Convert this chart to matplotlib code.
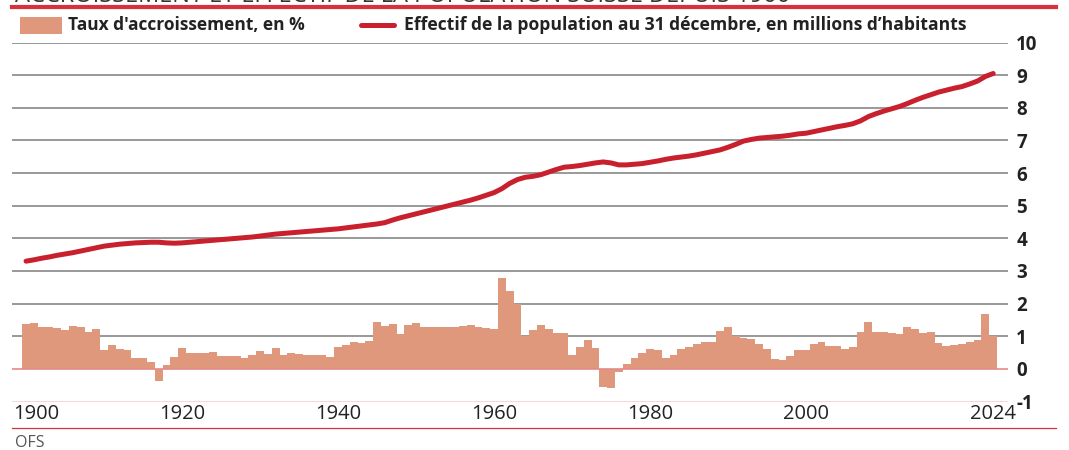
import matplotlib
matplotlib.use("Agg")
import matplotlib.pyplot as plt
from matplotlib.patches import Rectangle
from matplotlib.lines import Line2D
from matplotlib.transforms import ScaledTranslation

plt.rcParams['font.family'] = ['Open Sans', 'DejaVu Sans']

years = list(range(1900, 2025))

# Taux d'accroissement, en %
growth = [
    1.36, 1.41, 1.28, 1.27, 1.26, 1.18, 1.31, 1.27, 1.14, 1.22,   # 1900-1909
    0.59, 0.73, 0.61, 0.58, 0.33, 0.33, 0.22, -0.36, 0.12, 0.37,  # 1910-1919
    0.65, 0.48, 0.48, 0.48, 0.53, 0.38, 0.39, 0.40, 0.34, 0.44,   # 1920-1929
    0.55, 0.46, 0.64, 0.43, 0.50, 0.47, 0.43, 0.43, 0.43, 0.37,   # 1930-1939
    0.67, 0.74, 0.81, 0.78, 0.85, 1.43, 1.31, 1.38, 1.06, 1.33,   # 1940-1949
    1.39, 1.29, 1.29, 1.29, 1.29, 1.28, 1.30, 1.33, 1.28, 1.26,   # 1950-1959
    1.23, 2.77, 2.40, 2.00, 1.00, 1.18, 1.34, 1.21, 1.10, 1.10,   # 1960-1969
    0.41, 0.67, 0.88, 0.63, -0.55, -0.58, -0.10, 0.15, 0.32, 0.50,  # 1970-1979
    0.61, 0.58, 0.32, 0.43, 0.60, 0.68, 0.75, 0.83, 0.83, 1.15,   # 1980-1989
    1.28, 1.00, 0.95, 0.91, 0.76, 0.61, 0.31, 0.26, 0.40, 0.58,   # 1990-1999
    0.58, 0.75, 0.82, 0.69, 0.69, 0.61, 0.67, 1.14, 1.44, 1.12,   # 2000-2009
    1.12, 1.10, 1.08, 1.29, 1.21, 1.10, 1.14, 0.80, 0.71, 0.72,   # 2010-2019
    0.77, 0.82, 0.89, 1.68, 1.01,                                 # 2020-2024
]

# Effectif de la population au 31 decembre, en millions
population = [
    3.30, 3.34, 3.39, 3.43, 3.48, 3.52, 3.56, 3.61, 3.66, 3.71,
    3.76, 3.79, 3.82, 3.84, 3.86, 3.87, 3.88, 3.88, 3.86, 3.85,
    3.86, 3.88, 3.90, 3.92, 3.94, 3.96, 3.98, 4.00, 4.02, 4.04,
    4.07, 4.10, 4.13, 4.15, 4.17, 4.19, 4.21, 4.23, 4.25, 4.27,
    4.29, 4.32, 4.35, 4.38, 4.41, 4.44, 4.48, 4.56, 4.63, 4.69,
    4.75, 4.81, 4.87, 4.93, 4.99, 5.05, 5.11, 5.17, 5.24, 5.32,
    5.40, 5.52, 5.68, 5.80, 5.87, 5.90, 5.95, 6.03, 6.11, 6.18,
    6.20, 6.23, 6.27, 6.31, 6.34, 6.31, 6.25, 6.25, 6.27, 6.29,
    6.33, 6.37, 6.42, 6.46, 6.49, 6.52, 6.56, 6.61, 6.66, 6.71,
    6.79, 6.88, 6.98, 7.03, 7.07, 7.09, 7.11, 7.13, 7.16, 7.20,
    7.22, 7.27, 7.32, 7.37, 7.42, 7.46, 7.51, 7.60, 7.73, 7.82,
    7.90, 7.97, 8.04, 8.13, 8.23, 8.32, 8.40, 8.48, 8.54, 8.60,
    8.65, 8.73, 8.82, 8.96, 9.05,
]

x_ticks = [1900, 1920, 1940, 1960, 1980, 2000, 2024]
y_ticks = list(range(-1, 11))

bar_color = '#e0987c'
line_color = '#c9202e'
grid_color = '#7d7d7d'
red = '#d8303c'

W, H = 1069, 450
fig = plt.figure(figsize=(W / 100, H / 100), dpi=100)


def fx(px):
    return px / W


def fy(py):
    return 1 - py / H


ax = fig.add_axes([fx(12), fy(401.5), fx(1008 - 12), (401.5 - 42.5) / H])
ax.set_xlim(1898.2, 2025.9)
ax.set_ylim(-1, 10)

for v in range(1, 11):
    ax.axhline(v, color=grid_color, lw=1.1, zorder=0)
ax.axhline(-1, color=red, lw=1.0, zorder=0)

ax.bar(years, growth, width=1.0, color=bar_color, linewidth=0, zorder=2)
ax.axhline(0, color='#e48a8a', lw=1.2, zorder=3)
ax.plot(years, population, color=line_color, lw=3.6, solid_capstyle='round',
        solid_joinstyle='round', zorder=4)

for s in ax.spines.values():
    s.set_visible(False)

ax.yaxis.tick_right()
ax.set_yticks(y_ticks)
ax.set_yticklabels([str(v) for v in y_ticks], fontsize=13.5, fontweight='bold', color='#222222')
ax.tick_params(axis='y', length=0, pad=6)

ax.set_xticks(x_ticks)
ax.set_xticklabels([str(v) for v in x_ticks], fontsize=14.5, color='#222222')
ax.tick_params(axis='x', length=0, pad=2)
first = ax.get_xticklabels()[0]
first.set_transform(first.get_transform() + ScaledTranslation(0.10, 0, fig.dpi_scale_trans))

# header: title cut at the top edge, thick red rule
fig.text(fx(15), fy(2), "ACCROISSEMENT ET EFFECTIF DE LA POPULATION SUISSE DEPUIS 1900",
         fontsize=17, color='#333333', ha='left', va='baseline')
fig.add_artist(Line2D([fx(12), fx(1056)], [fy(7), fy(7)], color=red, lw=3.0))

# legend
fig.add_artist(Rectangle((fx(20), fy(34)), fx(42), 17 / H, color=bar_color, lw=0))
fig.text(fx(68), fy(25.5), "Taux d'accroissement, en %", fontsize=12.5,
         fontweight='bold', color='#222222', ha='left', va='center')
fig.add_artist(Line2D([fx(361), fx(394)], [fy(25), fy(25)], color=line_color, lw=3.6,
                      solid_capstyle='round'))
fig.text(fx(404), fy(25.5), "Effectif de la population au 31 décembre, en millions d\u2019habitants",
         fontsize=12.6, fontweight='bold', color='#222222', ha='left', va='center')

# footer
fig.add_artist(Line2D([fx(12), fx(1056)], [fy(428), fy(428)], color=red, lw=0.9))
fig.text(fx(15), fy(443), "OFS", fontsize=11.5, color='#555555', ha='left', va='center')

fig.savefig('out.png', dpi=100)
